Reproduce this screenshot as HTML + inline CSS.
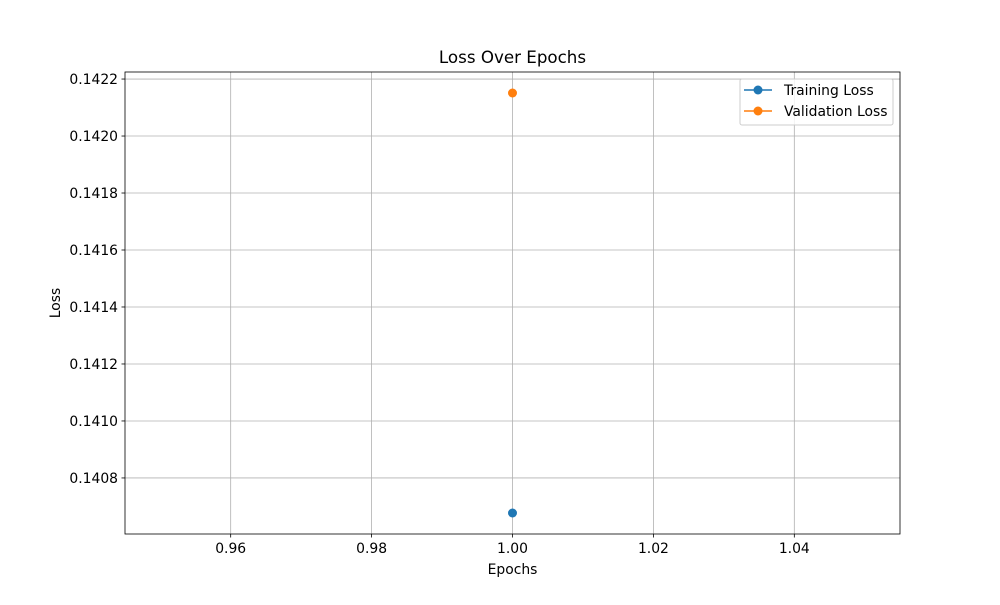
<!DOCTYPE html>
<html><head><meta charset="utf-8"><style>body{margin:0;background:#fff}svg{font-family:"DejaVu Sans","Liberation Sans",sans-serif}</style></head>
<body>
<svg id="chart" width="1000" height="600" xmlns="http://www.w3.org/2000/svg">
<rect width="1000" height="600" fill="#fff"/>
<g id="grid"></g>
<rect x="125" y="72" width="775" height="462" fill="none" stroke="#000" stroke-width="0.8"/>
<g id="ticks" font-size="13.9" fill="#000"></g>
<g id="marks"></g>
<text x="512.5" y="63" text-anchor="middle" font-size="16.7">Loss Over Epochs</text>
<text x="512.5" y="574" text-anchor="middle" font-size="13.9">Epochs</text>
<text x="60" y="303" text-anchor="middle" font-size="13.9" transform="rotate(-90 60 303)">Loss</text>
<g>
<rect x="740" y="79" width="153" height="46" rx="2" fill="#fff" fill-opacity="0.8" stroke="#ccc"/>
<g>
<line x1="744" y1="90" x2="772" y2="90" stroke="#1f77b4" stroke-width="1.5"/><circle cx="758" cy="90" r="4.5" fill="#1f77b4"/>
<text x="784" y="95" font-size="13.9">Training Loss</text></g>
<g>
<line x1="744" y1="111" x2="772" y2="111" stroke="#ff7f0e" stroke-width="1.5"/><circle cx="758" cy="111" r="4.5" fill="#ff7f0e"/>
<text x="784" y="116" font-size="13.9">Validation Loss</text></g>
</g>
</svg>
<script>
const epochs=[1];
const trainLoss=[0.140677];
const valLoss=[0.142151];
const xTicks=[0.96,0.98,1.00,1.02,1.04];
const yTicks=[0.1408,0.1410,0.1412,0.1414,0.1416,0.1418,0.1420,0.1422];
const X0=125,X1=900,Y0=534,Y1=72;
const allY=trainLoss.concat(valLoss);
let ymin=Math.min(...allY),ymax=Math.max(...allY),yr=ymax-ymin||1;ymin-=yr*0.05;ymax+=yr*0.05;
let xmin=Math.min(...epochs),xmax=Math.max(...epochs);if(xmin===xmax){xmin-=0.055;xmax+=0.055;}else{const r=xmax-xmin;xmin-=r*0.05;xmax+=r*0.05;}
const sx=v=>X0+(v-xmin)/(xmax-xmin)*(X1-X0);
const sy=v=>Y0-(v-ymin)/(ymax-ymin)*(Y0-Y1);
const NS='http://www.w3.org/2000/svg';
function mk(tag,attrs,parent){const e=document.createElementNS(NS,tag);for(const k in attrs)e.setAttribute(k,attrs[k]);parent.appendChild(e);return e;}
const grid=document.getElementById('grid'),ticks=document.getElementById('ticks'),marks=document.getElementById('marks');
xTicks.forEach(t=>{const x=sx(t);
 const g=mk('line',{x1:x,x2:x,y1:Y1,y2:Y0,stroke:'#b0b0b0','stroke-width':0.8},grid);
 
 
 mk('line',{x1:x,x2:x,y1:Y0,y2:Y0+3.5,stroke:'#000','stroke-width':0.8},ticks);
 const tx=mk('text',{x:x,y:Y0+19,'text-anchor':'middle'},ticks);tx.textContent=t.toFixed(2);
 
 });
yTicks.forEach(t=>{const y=sy(t);
 const g=mk('line',{x1:X0,x2:X1,y1:y,y2:y,stroke:'#b0b0b0','stroke-width':0.8},grid);
 
 
 mk('line',{x1:X0-3.5,x2:X0,y1:y,y2:y,stroke:'#000','stroke-width':0.8},ticks);
 const tx=mk('text',{x:X0-7,y:y+5,'text-anchor':'end'},ticks);tx.textContent=t.toFixed(4);
 
 });
[[trainLoss,'#1f77b4','training'],[valLoss,'#ff7f0e','validation']].forEach(([arr,c,n])=>{
 const pts=arr.map((v,i)=>sx(epochs[i])+','+sy(v)).join(' ');
 const pl=mk('polyline',{points:pts,fill:'none',stroke:c,'stroke-width':1.5},marks);
 
 
 arr.forEach((v,i)=>{const p=mk('circle',{cx:sx(epochs[i]),cy:sy(v),r:4.5,fill:c},marks);
 
 });});
</script>
</body></html>
